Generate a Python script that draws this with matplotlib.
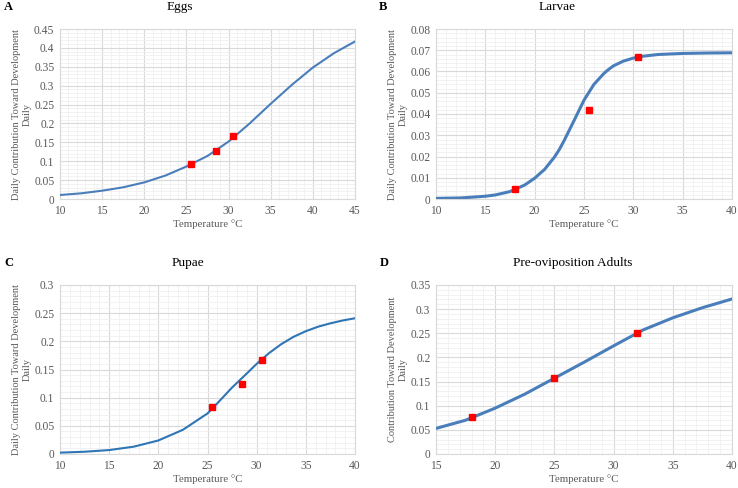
import matplotlib
matplotlib.use("Agg")
import matplotlib.pyplot as plt
from matplotlib.ticker import MultipleLocator, FuncFormatter

plt.rcParams['font.family'] = ['Liberation Serif', 'DejaVu Serif']

# ---- data ----
eggs_t = [10, 12.5, 15, 17.5, 20, 22.5, 25, 27.5, 30, 32.5, 35, 37.5, 40, 42.5, 45]
eggs_rate = [0.0106, 0.015, 0.022, 0.031, 0.044, 0.062, 0.086, 0.114, 0.152,
             0.200, 0.252, 0.302, 0.348, 0.386, 0.417]
eggs_obs_t = [25.5, 28.5, 30.5]
eggs_obs = [0.092, 0.126, 0.167]

larvae_t = [10, 12.5, 15, 16, 17.5, 19, 20, 21, 22, 22.5, 23, 24, 25, 26, 27,
            27.5, 28, 29, 30, 31, 32.5, 35, 37.5, 40]
larvae_rate = [0.0003, 0.0005, 0.0013, 0.0019, 0.0035, 0.0066, 0.0098, 0.0139,
               0.0197, 0.0233, 0.0276, 0.037, 0.0465, 0.0539, 0.059, 0.061,
               0.0627, 0.0649, 0.0663, 0.0672, 0.068, 0.0685, 0.0687, 0.0688]
larvae_obs_t = [18, 25.5, 30.5]
larvae_obs = [0.0047, 0.0417, 0.0666]

pupae_t = [10, 12.5, 15, 17.5, 20, 22.5, 25, 26, 27.5, 29, 30, 31.25, 32.5,
           33.75, 35, 36.25, 37.5, 38.75, 40]
pupae_rate = [0.0024, 0.004, 0.007, 0.013, 0.024, 0.043, 0.072, 0.090, 0.118,
              0.143, 0.160, 0.179, 0.195, 0.208, 0.218, 0.226, 0.232, 0.237, 0.241]
pupae_obs_t = [25.5, 28.5, 30.5]
pupae_obs = [0.083, 0.125, 0.167]

adult_t = [15, 17.5, 20, 22.5, 25, 27.5, 30, 32.5, 35, 37.5, 40]
adult_rate = [0.053, 0.070, 0.095, 0.124, 0.157, 0.190, 0.224, 0.257, 0.282,
              0.303, 0.321]
adult_obs_t = [18, 25, 32]
adult_obs = [0.077, 0.158, 0.251]

W, H = 738, 488
fig = plt.figure(figsize=(W / 100, H / 100), dpi=100)

def px(x, y):
    return x / W, 1 - y / H

def panel(left, top, right, bottom, t, rate, obs_t, obs, xlim, ylim, ystep,
          lw, color, letter, letter_x, title, title_x, ylabel, ylabel_x):
    ax = fig.add_axes([left / W, 1 - bottom / H, (right - left) / W, (bottom - top) / H])
    ax.plot(t, rate, color=color, lw=lw, zorder=3, solid_capstyle='round',
            solid_joinstyle='round')
    ax.plot(obs_t, obs, ls='none', marker='s', ms=4.6, color='#FF0000', zorder=4)
    ax.set_xlim(*xlim)
    ax.set_ylim(*ylim)
    ax.xaxis.set_major_locator(MultipleLocator(5))
    ax.xaxis.set_minor_locator(MultipleLocator(1))
    ax.yaxis.set_major_locator(MultipleLocator(ystep))
    ax.yaxis.set_minor_locator(MultipleLocator(ystep / 5))
    ax.yaxis.set_major_formatter(FuncFormatter(lambda v, p: '%g' % round(v, 4)))
    ax.grid(which='major', color='#D9D9D9', lw=0.8)
    ax.grid(which='minor', color='#F0F0F0', lw=0.6)
    ax.set_axisbelow(True)
    for s in ax.spines.values():
        s.set_color('#D9D9D9')
        s.set_linewidth(0.8)
    ax.tick_params(which='both', length=0, labelsize=8.3, labelcolor='#595959', pad=4)
    cx = (left + right) / 2
    fig.text(*px(cx, bottom + 25), 'Temperature \u00b0C', ha='center', va='center',
             fontsize=7.8, color='#595959')
    fig.text(*px(title_x, top - 22), title, ha='center', va='center', fontsize=9.5)
    fig.text(*px(letter_x, top - 22), letter,
             ha='left', va='center', fontsize=9, fontweight='bold')
    fig.text(*px(ylabel_x, (top + bottom) / 2), ylabel, rotation=90, ha='center',
             va='center', multialignment='center', fontsize=7.5, color='#595959',
             linespacing=1.25)
    return ax

lab3 = 'Daily Contribution Toward Development\nDaily'
panel(60, 29, 355, 199, eggs_t, eggs_rate, eggs_obs_t, eggs_obs, (10, 45), (0, 0.45),
      0.05, 1.5, '#4A7EBB', 'A', 4, 'Eggs', 180, lab3, 22)
panel(436, 29, 732, 199, larvae_t, larvae_rate, larvae_obs_t, larvae_obs, (10, 40),
      (0, 0.08), 0.01, 2.2, '#4A7EBB', 'B', 379, 'Larvae', 557, lab3, 398)
panel(60, 285, 355, 454, pupae_t, pupae_rate, pupae_obs_t, pupae_obs, (10, 40),
      (0, 0.3), 0.05, 1.5, '#2E75B6', 'C', 4, 'Pupae', 188, lab3, 22)
panel(436, 285, 732, 454, adult_t, adult_rate, adult_obs_t, adult_obs, (15, 40),
      (0, 0.35), 0.05, 2.2, '#4A7EBB', 'D', 380, 'Pre-oviposition Adults', 573,
      'Contribution Toward Development\nDaily', 398)

fig.savefig('out.png', dpi=100)
